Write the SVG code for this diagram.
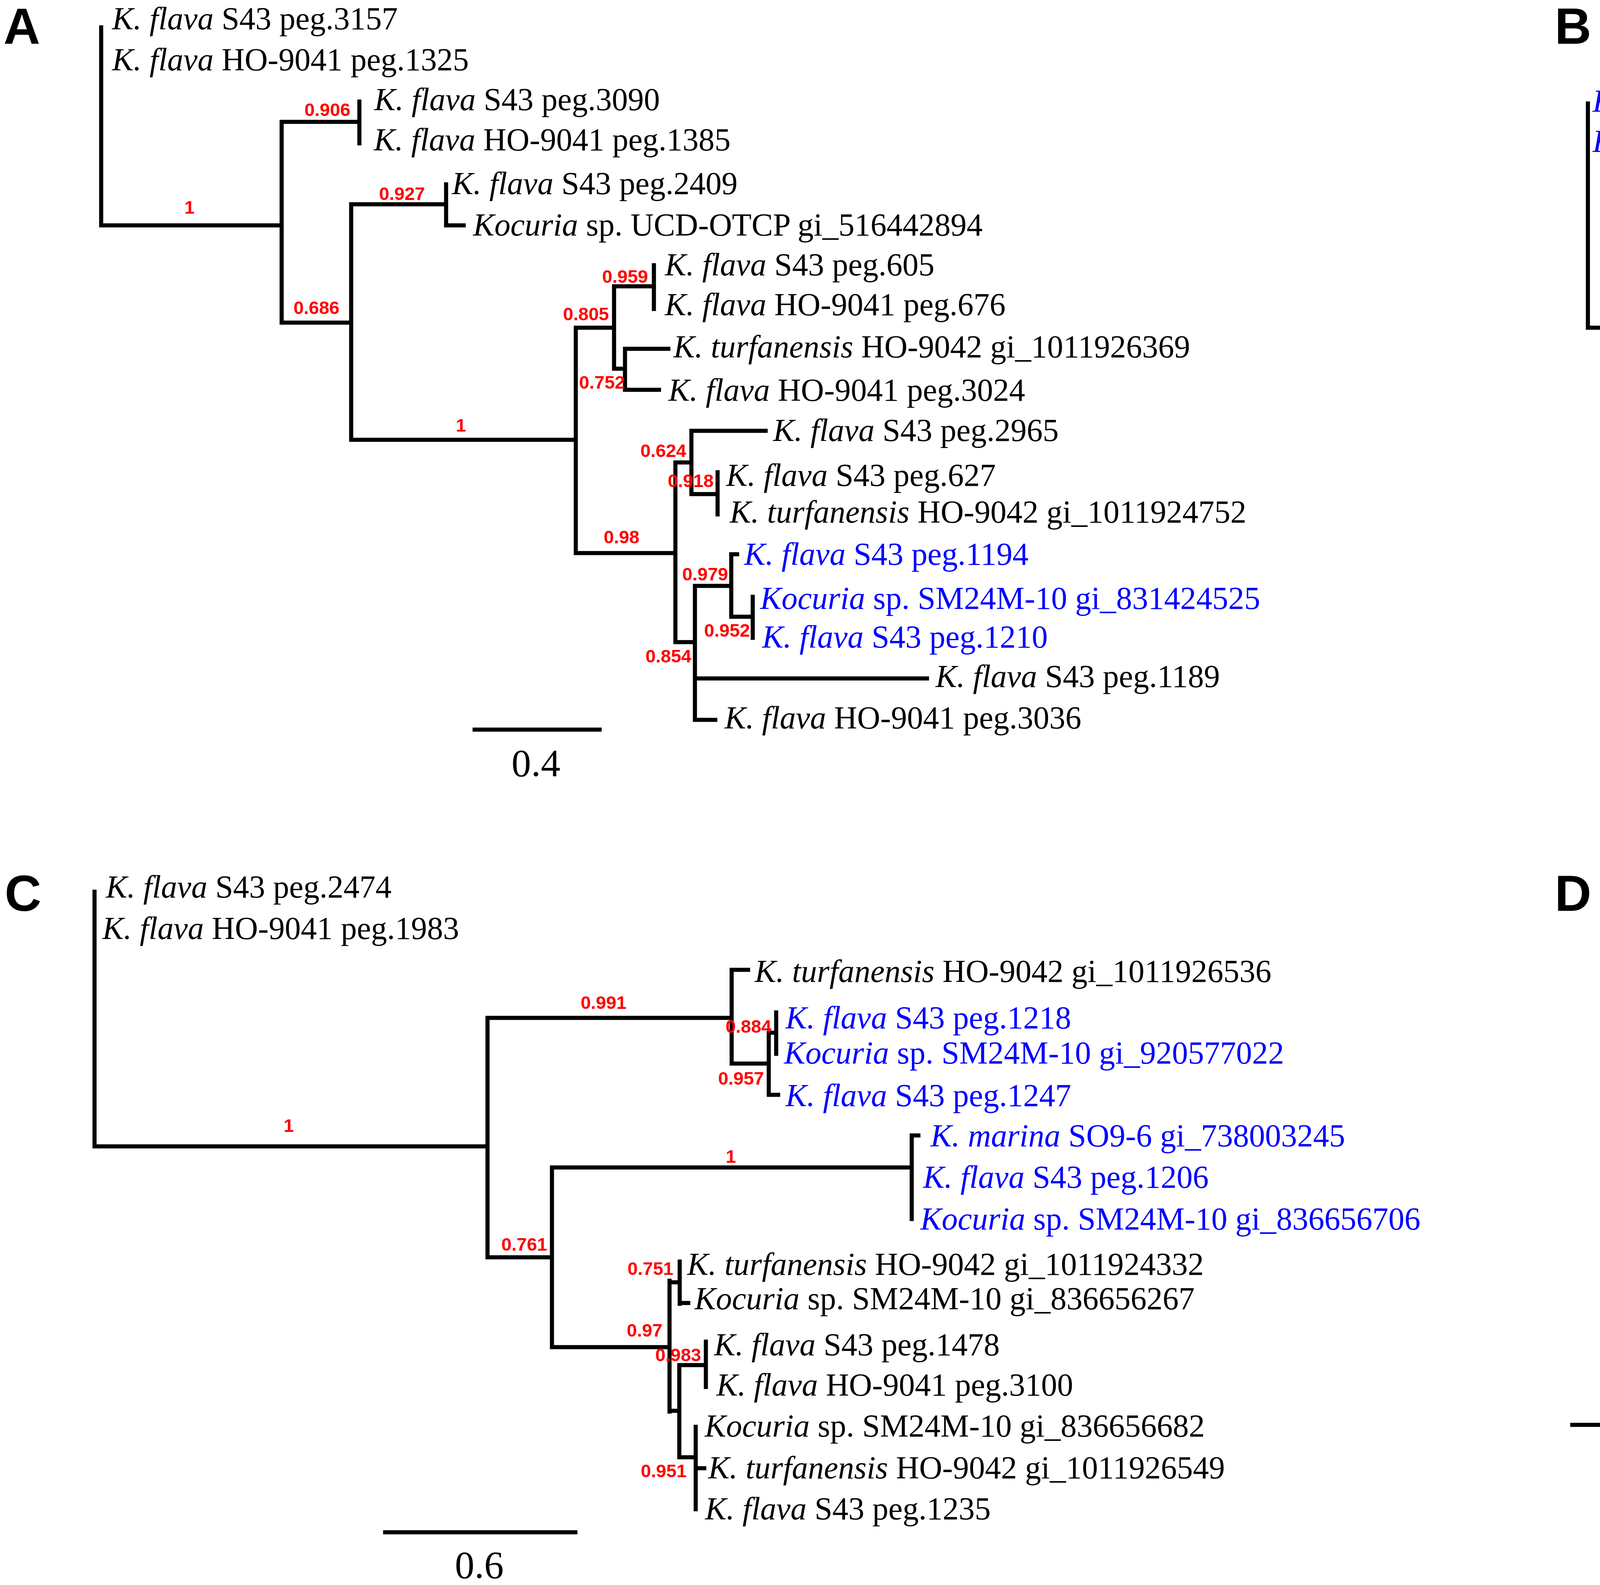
<svg xmlns="http://www.w3.org/2000/svg" width="7602" height="4058" viewBox="0 0 7602 4058">
<style>
.t{font-family:"Liberation Serif","Times New Roman",serif;font-size:82px;fill:#000}
.bl{fill:#0000ff}
.i{font-style:italic}
.s{font-family:"Liberation Sans",Arial,sans-serif;font-weight:bold;font-size:47px;fill:#ff0000;text-anchor:end}
.sm{text-anchor:middle}
.p{font-family:"Liberation Sans",Arial,sans-serif;font-weight:bold;font-size:130px;fill:#000}
.sc{font-family:"Liberation Serif","Times New Roman",serif;font-size:100px;fill:#000;text-anchor:middle}
.br{fill:none;stroke:#000;stroke-width:10.5;stroke-linecap:square}
</style>
<rect width="7602" height="4058" fill="#fff"/>
<g id="connectors">
<path class="br" d="M259 70V577M259 577H721M721 312V826M721 312H920M920 260V367M721 826H899M899 523V1126M899 523H1142M1142 472V577M1142 577H1187M899 1126H1474M1474 839V1416M1474 839H1572M1572 733V944M1572 733H1674M1674 679V791M1572 944H1600M1600 893V998M1600 893H1711M1600 998H1687M1474 1416H1729M1729 1184V1644M1729 1184H1770M1770 1103V1265M1770 1103H1960M1770 1265H1837M1837 1209V1317M1729 1644H1779M1779 1500V1843M1779 1500H1872M1872 1419V1579M1872 1419H1887M1872 1579H1927M1927 1528V1633M1779 1737H2373M1779 1843H1831"/>
<path class="br" d="M1215 1868H1535"/>
<path class="br" d="M4065 265V839M4065 839H5363M5363 667V997M5363 667H6017M6017 552V786M6017 552H6036M6036 470V628M6036 470H6052M6036 628H6154M6154 576V681M5363 997H5792M5792 889V1102M5792 895H5805M5792 1098H5809M5809 1000V1198M5809 1198H5872M5872 1106V1289M5872 1106H6066M5872 1289H5900M5900 1210V1421M5900 1211H5942M5900 1315H5929M5900 1421H6003"/>
<path class="br" d="M4886 1462H5564"/>
<path class="br" d="M242 2283V2935M242 2935H1248M1248 2606V3219M1248 2606H1873M1873 2483V2723M1873 2483H1915M1873 2723H1968M1968 2644V2803M1968 2644H1987M1987 2592V2698M1968 2803H1992M1248 3219H1413M1413 2989V3449M1413 2989H2334M2334 2907V3121M2334 2907H2351M1413 3449H1714M1714 3279V3614M1714 3283H1740M1740 3230V3338M1740 3336H1762M1714 3612H1739M1739 3495V3731M1739 3495H1807M1807 3435V3551M1739 3731H1781M1781 3653V3864M1781 3759H1803"/>
<path class="br" d="M986 3923H1473"/>
<path class="br" d="M4221 2300V2804M4221 2804H4385M4385 2563V3002M4385 2563H4449M4449 2486V2638M4449 2486H4553M4449 2638H4497M4497 2586V2688M4497 2586H4519M4497 2688H4524M4385 3002H4760M4760 2836V3171M4760 2836H4883M4883 2784V2888M4883 2784H6214M4883 2888H4974M4760 3171H4824M4824 2988V3355M4824 2988H4843M4824 3355H4867M4867 3173V3535M4867 3173H4900M4900 3087V3262M4900 3087H4928M4900 3260H4940M4940 3187V3336M4940 3187H4972M4940 3334H4991M4991 3287V3385M4867 3535H4889M4889 3487V3586"/>
<path class="br" d="M4025 3648H4695"/>
</g>

<g id="panel-labels">
<text class="p" x="9" y="112">A</text>
<text class="p" x="3980" y="112">B</text>
<text class="p" x="12" y="2332">C</text>
<text class="p" x="3980" y="2332">D</text>
</g>

<g id="scales">
<text class="sc" x="1372" y="1987">0.4</text>
<text class="sc" x="5221" y="1561">0.4</text>
<text class="sc" x="1227" y="4040">0.6</text>
<text class="sc" x="4365" y="3767">0.8</text>
</g>

<g id="support-A">
<text class="s sm" x="485" y="547">1</text>
<text class="s" x="897" y="297">0.906</text>
<text class="s" x="1088" y="512">0.927</text>
<text class="s" x="869" y="804">0.686</text>
<text class="s" x="1659" y="724">0.959</text>
<text class="s" x="1559" y="820">0.805</text>
<text class="s sm" x="1180" y="1105">1</text>
<text class="s" x="1600" y="995">0.752</text>
<text class="s" x="1757" y="1170">0.624</text>
<text class="s" x="1827" y="1247">0.918</text>
<text class="s" x="1637" y="1391">0.98</text>
<text class="s" x="1864" y="1486">0.979</text>
<text class="s" x="1920" y="1630">0.952</text>
<text class="s" x="1770" y="1696">0.854</text>
</g>
<g id="support-B">
<text class="s sm" x="4707" y="810">1</text>
<text class="s" x="5736" y="647">0.989</text>
<text class="s" x="5623" y="973">0.946</text>
<text class="s" x="6146" y="681">0.997</text>
<text class="s" x="5786" y="1091">0.753</text>
<text class="s" x="5853" y="1247">0.811</text>
</g>
<g id="support-C">
<text class="s sm" x="739" y="2898">1</text>
<text class="s" x="1604" y="2583">0.991</text>
<text class="s" x="1975" y="2644">0.884</text>
<text class="s" x="1956" y="2777">0.957</text>
<text class="s" x="1401" y="3202">0.761</text>
<text class="s sm" x="1871" y="2977">1</text>
<text class="s" x="1724" y="3264">0.751</text>
<text class="s" x="1696" y="3422">0.97</text>
<text class="s" x="1795" y="3485">0.983</text>
<text class="s" x="1758" y="3782">0.951</text>
</g>
<g id="support-D">
<text class="s" x="4368" y="2781">0.997</text>
<text class="s" x="4436" y="2543">0.803</text>
<text class="s" x="4479" y="2687">0.918</text>
<text class="s sm" x="4572" y="2985">1</text>
<text class="s" x="4810" y="3217">0.851</text>
<text class="s" x="4850" y="3405">0.89</text>
<text class="s" x="4954" y="3305">0.929</text>
<text class="s" x="4988" y="3383">0.987</text>
<text class="s" x="4870" y="3581">0.871</text>
</g>

<g id="A-leaf-1"><text class="t" x="287" y="75"><tspan class="i">K. flava</tspan> S43 peg.3157</text></g>
<g id="A-leaf-2"><text class="t" x="287" y="180"><tspan class="i">K. flava</tspan> HO-9041 peg.1325</text></g>
<g id="A-leaf-3"><text class="t" x="958" y="282"><tspan class="i">K. flava</tspan> S43 peg.3090</text></g>
<g id="A-leaf-4"><text class="t" x="957" y="385"><tspan class="i">K. flava</tspan> HO-9041 peg.1385</text></g>
<g id="A-leaf-5"><text class="t" x="1157" y="497"><tspan class="i">K. flava</tspan> S43 peg.2409</text></g>
<g id="A-leaf-6"><text class="t" x="1211" y="603"><tspan class="i">Kocuria</tspan> sp. UCD-OTCP gi_516442894</text></g>
<g id="A-leaf-7"><text class="t" x="1702" y="705"><tspan class="i">K. flava</tspan> S43 peg.605</text></g>
<g id="A-leaf-8"><text class="t" x="1702" y="807"><tspan class="i">K. flava</tspan> HO-9041 peg.676</text></g>
<g id="A-leaf-9"><text class="t" x="1724" y="915"><tspan class="i">K. turfanensis</tspan> HO-9042 gi_1011926369</text></g>
<g id="A-leaf-10"><text class="t" x="1711" y="1026"><tspan class="i">K. flava</tspan> HO-9041 peg.3024</text></g>
<g id="A-leaf-11"><text class="t" x="1979" y="1129"><tspan class="i">K. flava</tspan> S43 peg.2965</text></g>
<g id="A-leaf-12"><text class="t" x="1859" y="1244"><tspan class="i">K. flava</tspan> S43 peg.627</text></g>
<g id="A-leaf-13"><text class="t" x="1868" y="1338"><tspan class="i">K. turfanensis</tspan> HO-9042 gi_1011924752</text></g>
<g id="A-leaf-14"><text class="t bl" x="1905" y="1446"><tspan class="i">K. flava</tspan> S43 peg.1194</text></g>
<g id="A-leaf-15"><text class="t bl" x="1946" y="1559"><tspan class="i">Kocuria</tspan> sp. SM24M-10 gi_831424525</text></g>
<g id="A-leaf-16"><text class="t bl" x="1951" y="1658"><tspan class="i">K. flava</tspan> S43 peg.1210</text></g>
<g id="A-leaf-17"><text class="t" x="2395" y="1759"><tspan class="i">K. flava</tspan> S43 peg.1189</text></g>
<g id="A-leaf-18"><text class="t" x="1855" y="1865"><tspan class="i">K. flava</tspan> HO-9041 peg.3036</text></g>

<g id="B-leaf-1"><text class="t bl" x="4077" y="286"><tspan class="i">K. flava</tspan> S43 peg.1203</text></g>
<g id="B-leaf-2"><text class="t bl" x="4077" y="389"><tspan class="i">Kocuria</tspan> sp. SM24M-10 gi_836656659</text></g>
<g id="B-leaf-3"><text class="t" x="6071" y="494"><tspan class="i">K. flava</tspan> S43 peg.1421</text></g>
<g id="B-leaf-4"><text class="t" x="6177" y="600"><tspan class="i">Kocuria</tspan> sp. SM24M-10 gi_836654739</text></g>
<g id="B-leaf-5"><text class="t" x="6184" y="705"><tspan class="i">K. turfanensis</tspan> HO-9042 gi_1011924365</text></g>
<g id="B-leaf-6"><text class="t" x="6040" y="810"><tspan class="i">K. flava</tspan> HO-9041 peg.40</text></g>
<g id="B-leaf-7"><text class="t" x="5826" y="920"><tspan class="i">K. polaris</tspan> CMS_76or gi_737967706</text></g>
<g id="B-leaf-8"><text class="t" x="5830" y="1026"><tspan class="i">K. turfanensis</tspan> HO-9042 gi_1011926538</text></g>
<g id="B-leaf-9"><text class="t" x="6086" y="1130"><tspan class="i">Micrococcus luteus</tspan> RIT324w gi_612091862</text></g>
<g id="B-leaf-10"><text class="t" x="5952" y="1244"><tspan class="i">K. flava</tspan> S43 peg.1245</text></g>
<g id="B-leaf-11"><text class="t" x="5932" y="1344"><tspan class="i">K. palustris</tspan> MU14/1 gi_923063910</text></g>
<g id="B-leaf-12"><text class="t" x="6015" y="1442"><tspan class="i">K. flava</tspan> S43 peg.1215</text></g>

<g id="C-leaf-1"><text class="t" x="271" y="2298"><tspan class="i">K. flava</tspan> S43 peg.2474</text></g>
<g id="C-leaf-2"><text class="t" x="262" y="2404"><tspan class="i">K. flava</tspan> HO-9041 peg.1983</text></g>
<g id="C-leaf-3"><text class="t" x="1932" y="2514"><tspan class="i">K. turfanensis</tspan> HO-9042 gi_1011926536</text></g>
<g id="C-leaf-4"><text class="t bl" x="2011" y="2633"><tspan class="i">K. flava</tspan> S43 peg.1218</text></g>
<g id="C-leaf-5"><text class="t bl" x="2007" y="2723"><tspan class="i">Kocuria</tspan> sp. SM24M-10 gi_920577022</text></g>
<g id="C-leaf-6"><text class="t bl" x="2011" y="2832"><tspan class="i">K. flava</tspan> S43 peg.1247</text></g>
<g id="C-leaf-7"><text class="t bl" x="2382" y="2935"><tspan class="i">K. marina</tspan> SO9-6 gi_738003245</text></g>
<g id="C-leaf-8"><text class="t bl" x="2363" y="3041"><tspan class="i">K. flava</tspan> S43 peg.1206</text></g>
<g id="C-leaf-9"><text class="t bl" x="2356" y="3148"><tspan class="i">Kocuria</tspan> sp. SM24M-10 gi_836656706</text></g>
<g id="C-leaf-10"><text class="t" x="1759" y="3264"><tspan class="i">K. turfanensis</tspan> HO-9042 gi_1011924332</text></g>
<g id="C-leaf-11"><text class="t" x="1778" y="3352"><tspan class="i">Kocuria</tspan> sp. SM24M-10 gi_836656267</text></g>
<g id="C-leaf-12"><text class="t" x="1828" y="3470"><tspan class="i">K. flava</tspan> S43 peg.1478</text></g>
<g id="C-leaf-13"><text class="t" x="1834" y="3573"><tspan class="i">K. flava</tspan> HO-9041 peg.3100</text></g>
<g id="C-leaf-14"><text class="t" x="1804" y="3678"><tspan class="i">Kocuria</tspan> sp. SM24M-10 gi_836656682</text></g>
<g id="C-leaf-15"><text class="t" x="1813" y="3785"><tspan class="i">K. turfanensis</tspan> HO-9042 gi_1011926549</text></g>
<g id="C-leaf-16"><text class="t" x="1805" y="3890"><tspan class="i">K. flava</tspan> S43 peg.1235</text></g>

<g id="D-leaf-1"><text class="t" x="4245" y="2314"><tspan class="i">K. flava</tspan> S43 peg.604</text></g>
<g id="D-leaf-2"><text class="t" x="4245" y="2414"><tspan class="i">K. flava</tspan> HO-9041 peg.677</text></g>
<g id="D-leaf-3"><text class="t" x="4572" y="2512"><tspan class="i">K. flava</tspan> HO-9041 peg.3023</text></g>
<g id="D-leaf-4"><text class="t" x="4532" y="2612"><tspan class="i">K. flava</tspan> S43 peg.669</text></g>
<g id="D-leaf-5"><text class="t" x="4548" y="2713"><tspan class="i">K. turfanensis</tspan> HO-9042 gi_1011924735</text></g>
<g id="D-leaf-6"><text class="t" x="6233" y="2810"><tspan class="i">K. flava</tspan> HO-9041 peg.1276</text></g>
<g id="D-leaf-7"><text class="t" x="4986" y="2911"><tspan class="i">K. flava</tspan> S43 peg.2964</text></g>
<g id="D-leaf-8"><text class="t" x="4864" y="3012"><tspan class="i">K. polaris</tspan> CD08-4 gi_971062816</text></g>
<g id="D-leaf-9"><text class="t bl" x="4942" y="3112"><tspan class="i">K. polaris</tspan> CD08-4 gi_971062659</text></g>
<g id="D-leaf-10"><text class="t bl" x="4992" y="3211"><tspan class="i">K. flava</tspan> S43 peg.1195</text></g>
<g id="D-leaf-11"><text class="t bl" x="5005" y="3310"><tspan class="i">Kocuria</tspan> sp. SM24M-10 gi_836656666</text></g>
<g id="D-leaf-12"><text class="t bl" x="5010" y="3411"><tspan class="i">K. flava</tspan> S43 peg.1211</text></g>
<g id="D-leaf-13"><text class="t" x="4913" y="3515"><tspan class="i">K. flava</tspan> S43 peg.626</text></g>
<g id="D-leaf-14"><text class="t" x="4911" y="3624"><tspan class="i">K. turfanensis</tspan> HO-9042 gi_1011924751</text></g>
</svg>
